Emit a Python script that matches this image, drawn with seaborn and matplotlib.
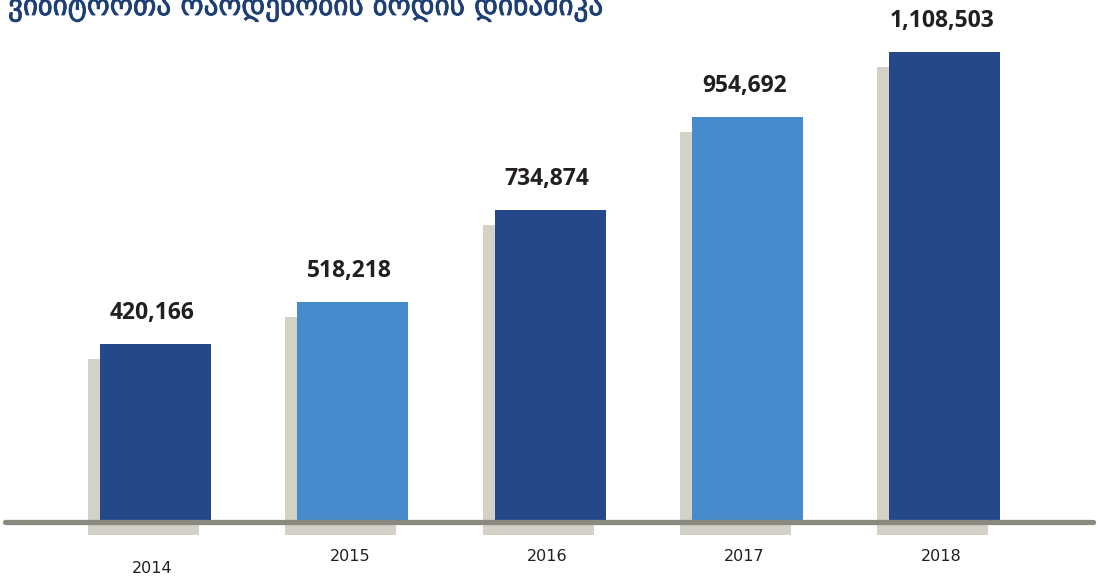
import numpy as np
import matplotlib
matplotlib.use("Agg")
import matplotlib.pyplot as plt
import matplotlib.patheffects as pe
import seaborn as sns

# data
years = ["2014", "2015", "2016", "2017", "2018"]
values = [420166, 518218, 734874, 954692, 1108503]
title = "ვიზიტორთა რაოდენობის ზრდის დინამიკა"

dark = "#25488a"
light = "#468bcb"
shadow = "#d4d2c6"
axis_gray = "#8b8a81"
colors = [dark, light, dark, light, dark]

sns.set_theme(style="white")
plt.rcParams["font.family"] = ["Open Sans", "DejaVu Sans"]

fig = plt.figure(figsize=(10.98, 5.78), dpi=100)
ax = fig.add_axes([0, 0, 1, 1])

# pixel scale: 2018 bar is 470 px tall
per_px = 1108503 / 470.0
step = 197.3  # px between bars
x = np.arange(len(years))

# shadow bars, shifted left and down
ax.bar(x - 12 / step, [v - 2 * per_px for v in values],
       bottom=-13 * per_px, width=0.563, color=shadow, linewidth=0, zorder=1)

sns.barplot(x=years, y=values, hue=years, palette=colors, legend=False,
            width=0.563, saturation=1, linewidth=0, ax=ax, zorder=2)

ax.axhline(0, xmin=5 / 1098, xmax=1093 / 1098, color=axis_gray, lw=3.8, zorder=3)

for i, v in enumerate(values):
    ax.annotate(f"{v:,}", (i - 3 / step, v), xytext=(0, 18), textcoords="offset points",
                ha="center", va="baseline", fontsize=16.5, fontweight="bold",
                color="#231f20")

# year labels under the axis
for i, y in enumerate(years):
    off = -28 if i == 0 else -19.5
    ax.annotate(y, (i - 3 / step, 0), xytext=(0, off), textcoords="offset points",
                ha="center", va="top", fontsize=11.5, color="#231f20",
                family=["Liberation Sans Narrow", "DejaVu Sans"])

ax.set_xlim(-155.5 / step, (1098 - 155.5) / step)
ax.set_ylim(-(578 - 522) * per_px, 522 * per_px)
ax.set_axis_off()

# title, cut off at the top edge like in the original
fig.text(8 / 1098, 1 - 15 / 578, title, ha="left", va="baseline", fontsize=21,
         color="#1d3f74", family=["DejaVu Sans"],
         path_effects=[pe.withStroke(linewidth=0.6, foreground="#1d3f74")])

fig.savefig("out.png", dpi=100)
